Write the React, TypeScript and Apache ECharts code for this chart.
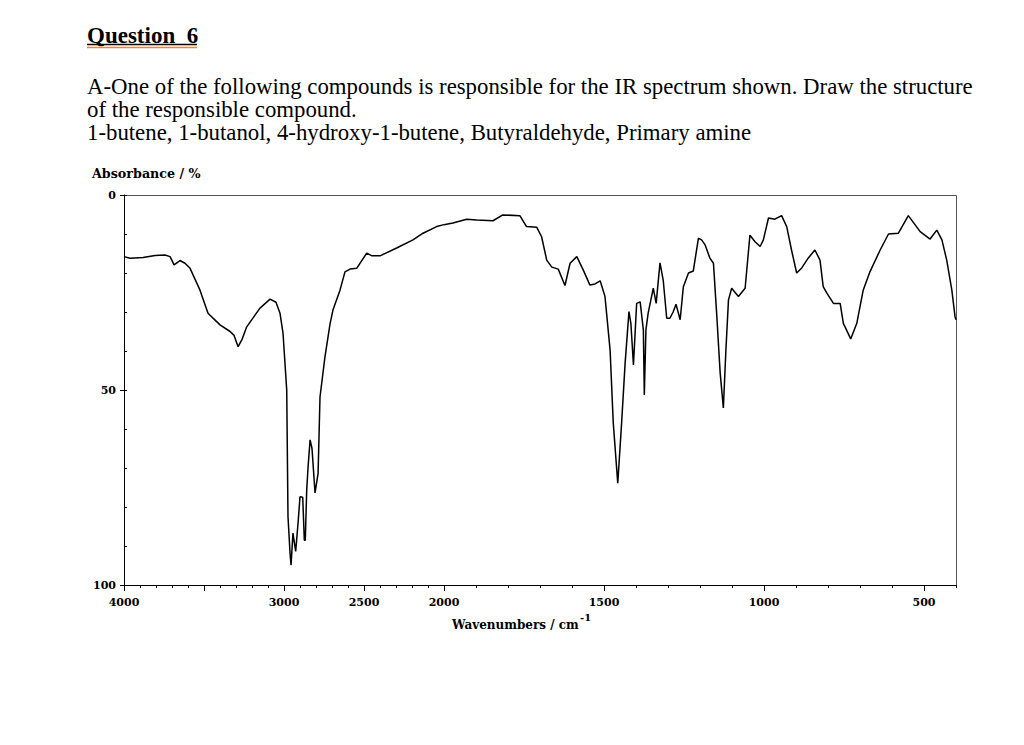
import React, { useEffect, useRef } from "react";
import * as echarts from "echarts";

// IR spectrum: wavenumber (cm-1) and absorbance (%)
const wavenumbers = [
  4000, 3962, 3881, 3806, 3744, 3712, 3687, 3650, 3619, 3587, 3525, 3475, 3400, 3337, 3312,
  3287, 3262, 3233, 3150, 3087, 3050, 3025, 3006, 2983, 2975, 2962, 2956, 2944, 2927, 2912,
  2900, 2883, 2873, 2867, 2858, 2850, 2837, 2825, 2806, 2787, 2775, 2744, 2712, 2694, 2650,
  2619, 2587, 2546, 2483, 2450, 2400, 2296, 2194, 2131, 2046, 2000,
  1972, 1929, 1898, 1847, 1816, 1763, 1742, 1710, 1695, 1679, 1663, 1643, 1622, 1606, 1585,
  1565, 1544, 1528, 1512, 1497, 1481, 1471, 1457, 1445, 1434, 1422, 1416, 1408, 1398, 1387,
  1377, 1374, 1369, 1362, 1346, 1337, 1325, 1315, 1304, 1294, 1284, 1275, 1262, 1252, 1236,
  1221, 1205, 1195, 1184, 1169, 1158, 1148, 1137, 1127, 1119, 1111, 1101, 1080, 1059, 1044,
  1028, 1012, 1002, 986, 966, 945, 929, 914, 898, 882, 862, 841, 825, 815, 804, 783, 762,
  752, 729, 710, 690, 669, 637, 611, 580, 549, 512, 481, 460, 444, 429, 413, 403, 400,
];
const absorbance = [
  15.8, 16.2, 16.0, 15.5, 15.4, 15.8, 17.9, 16.8, 17.5, 18.8, 24.4, 30.3, 33.3, 35.0, 36.0,
  38.9, 37.0, 33.8, 29.0, 26.7, 27.5, 30.3, 35.5, 50.0, 82.5, 92.0, 94.9, 86.7, 91.4, 84.0,
  77.4, 77.5, 88.5, 88.5, 75.6, 70.0, 62.8, 65.0, 76.4, 71.4, 51.8, 41.5, 33.0, 29.5, 24.4,
  19.7, 19.0, 18.8, 14.9, 15.6, 15.6, 13.6, 11.5, 9.8, 8.1, 7.6,
  7.2, 6.2, 6.4, 6.6, 5.1, 5.3, 8.1, 8.3, 10.7, 16.7, 18.5, 19.0, 23.2, 17.5, 15.8,
  19.2, 23.1, 22.8, 22.0, 26.0, 39.7, 58.5, 73.9, 58.5, 43.1, 29.9, 32.9, 43.6, 27.8, 27.4,
  34.6, 51.3, 34.6, 30.3, 23.9, 27.8, 17.4, 21.8, 31.6, 31.6, 30.0, 28.0, 32.0, 23.5, 20.0,
  19.5, 11.1, 11.5, 12.8, 16.2, 17.5, 30.3, 45.6, 54.6, 39.7, 26.9, 23.9, 26.0, 23.9, 10.3,
  12.0, 13.2, 11.5, 5.9, 6.2, 5.3, 8.1, 14.1, 20.0, 18.7, 16.2, 14.1, 16.7, 23.5, 25.1, 27.8, 27.8,
  32.9, 36.9, 32.9, 24.4, 19.7, 14.1, 10.0, 9.8, 5.3, 9.4, 11.3, 9.0, 11.5, 16.7, 24.4, 31.2, 32.0,
];

const highMajorTicks = [2000, 2500, 3000, 3500, 4000];
const highLabels = [2000, 2500, 3000, 4000];
const lowMajorTicks = [500, 1000, 1500];
const yMajorTicks = [0, 50, 100];

const questionTitle = "Question  6";
const questionLines = [
  "A-One of the following compounds is responsible for the IR spectrum shown. Draw the structure",
  "of the responsible compound.",
  "1-butene, 1-butanol, 4-hydroxy-1-butene, Butyraldehyde, Primary amine",
];
const yAxisTitle = "Absorbance / %";
const xAxisTitle = "Wavenumbers / cm";
const xAxisTitleSup = "-1";

const AXIS_FONT = "DejaVu Serif";
const TEXT_FONT = "Liberation Serif";

export default function App() {
  const ref = useRef<HTMLDivElement>(null);

  useEffect(() => {
    if (!ref.current) return;
    const chart = echarts.init(ref.current, null, { renderer: "svg" });
    const pts = wavenumbers.map((w, i) => [w, absorbance[i]]);
    const high = pts.filter((p) => p[0] >= 2000);
    const low = pts.filter((p) => p[0] <= 2000);

    const labelStyle = {
      fontFamily: AXIS_FONT,
      fontWeight: "bold" as const,
      fontSize: 11,
      color: "#000",
    };
    const lineStyle = { color: "#000", width: 1 };
    const fmt = (v: number) => String(v);

    // minor-tick axis + major-tick/label axis for one x range
    const xPair = (gridIndex: number, min: number, max: number, majors: number[], labels: number[]) => [
      {
        gridIndex,
        type: "value",
        min,
        max,
        interval: 100,
        inverse: true,
        position: "bottom",
        axisLine: { show: true, onZero: false, lineStyle },
        axisTick: { show: true, length: 3, lineStyle },
        splitLine: { show: false },
        axisLabel: { show: false },
      },
      {
        gridIndex,
        type: "value",
        min,
        max,
        inverse: true,
        position: "bottom",
        axisLine: { show: false, onZero: false },
        axisTick: { show: true, length: 6, lineStyle, customValues: majors },
        splitLine: { show: false },
        axisLabel: { ...labelStyle, margin: 12, customValues: labels, formatter: fmt },
      },
    ];

    const option: any = {
      animation: false,
      backgroundColor: "#fff",
      grid: [
        { left: 124, top: 195, width: 320, height: 390 },
        { left: 444, top: 195, width: 512, height: 390 },
      ],
      xAxis: [
        ...xPair(0, 2000, 4000, highMajorTicks, highLabels),
        ...xPair(1, 400, 2000, lowMajorTicks, lowMajorTicks),
      ],
      yAxis: [
        {
          gridIndex: 0,
          type: "value",
          min: 0,
          max: 100,
          interval: 10,
          inverse: true,
          position: "left",
          axisLine: { show: true, onZero: false, lineStyle },
          axisTick: { show: true, inside: true, length: 3, lineStyle },
          splitLine: { show: false },
          axisLabel: { show: false },
        },
        {
          gridIndex: 0,
          type: "value",
          min: 0,
          max: 100,
          inverse: true,
          position: "left",
          axisLine: { show: false, onZero: false },
          axisTick: { show: true, length: 4, lineStyle, customValues: yMajorTicks },
          splitLine: { show: false },
          axisLabel: { ...labelStyle, margin: 8, customValues: yMajorTicks, formatter: fmt },
        },
        {
          gridIndex: 1,
          type: "value",
          min: 0,
          max: 100,
          inverse: true,
          show: false,
          axisLine: { onZero: false },
        },
      ],
      series: [
        {
          type: "line",
          xAxisIndex: 0,
          yAxisIndex: 0,
          data: high,
          showSymbol: false,
          symbol: "none",
          silent: true,
          lineStyle: { color: "#000", width: 1.5 },
        },
        {
          type: "line",
          xAxisIndex: 2,
          yAxisIndex: 2,
          data: low,
          showSymbol: false,
          symbol: "none",
          silent: true,
          lineStyle: { color: "#000", width: 1.5 },
        },
      ],
      graphic: [
        {
          type: "polyline",
          silent: true,
          shape: { points: [[124, 195.5], [956.5, 195.5], [956.5, 585]] },
          style: { stroke: "#555", lineWidth: 1, fill: null },
        },
        {
          type: "text",
          x: 87,
          y: 35.5,
          style: {
            text: questionTitle,
            fontFamily: TEXT_FONT,
            fontWeight: "bold",
            fontSize: 23,
            fill: "#000",
            textVerticalAlign: "middle",
            verticalAlign: "middle",
          },
        },
        {
          type: "line",
          silent: true,
          shape: { x1: 87, y1: 44.5, x2: 197, y2: 44.5 },
          style: { stroke: "#000", lineWidth: 1.5 },
        },
        {
          type: "line",
          silent: true,
          shape: { x1: 87, y1: 47.5, x2: 197, y2: 47.5 },
          style: { stroke: "#e0874a", lineWidth: 1.5 },
        },
        ...questionLines.map((t, i) => ({
          type: "text",
          x: 87,
          y: 86 + i * 23,
          style: {
            text: t,
            fontFamily: TEXT_FONT,
            fontSize: 22.8,
            fill: "#000",
            textVerticalAlign: "middle",
            verticalAlign: "middle",
          },
        })),
        {
          type: "text",
          x: 92,
          y: 173,
          style: {
            text: yAxisTitle,
            fontFamily: AXIS_FONT,
            fontWeight: "bold",
            fontSize: 12.7,
            fill: "#000",
            textVerticalAlign: "middle",
            verticalAlign: "middle",
          },
        },
        {
          type: "text",
          x: 452,
          y: 625,
          style: {
            text: xAxisTitle,
            fontFamily: AXIS_FONT,
            fontWeight: "bold",
            fontSize: 12,
            fill: "#000",
            textVerticalAlign: "middle",
            verticalAlign: "middle",
          },
        },
        {
          type: "text",
          x: 580,
          y: 617,
          style: {
            text: xAxisTitleSup,
            fontFamily: AXIS_FONT,
            fontWeight: "bold",
            fontSize: 10,
            fill: "#000",
            textVerticalAlign: "middle",
            verticalAlign: "middle",
          },
        },
      ],
    };
    chart.setOption(option);
    return () => chart.dispose();
  }, []);

  return (
    <div
      ref={ref}
      style={{ position: "absolute", left: 0, top: 0, width: 1024, height: 745, background: "#fff" }}
    />
  );
}
